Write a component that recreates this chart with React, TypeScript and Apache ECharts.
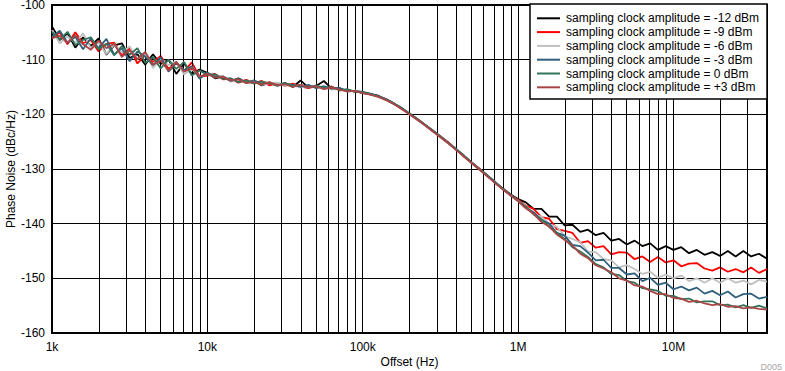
import React, { useEffect, useRef } from "react";
import * as echarts from "echarts";

const FONT = "Arial, 'Liberation Sans', sans-serif";

const freqs = [
  1000, 1122, 1259, 1413, 1585, 1778, 1995, 2239, 2512, 2818, 3162, 3548, 3981, 4467, 5012, 5623, 6310, 7079, 7943, 8913,
  10000, 11220, 12590, 14130, 15850, 17780, 19950, 22390, 25120, 28180, 31620, 35480, 39810, 44670, 50120, 56230, 63100, 70790, 79430, 89130,
  100000, 112200, 125900, 141300, 158500, 177800, 199500, 223900, 251200, 281800, 316200, 354800, 398100, 446700, 501200, 562300, 631000, 707900, 794300, 891300,
  1000000, 1122000, 1259000, 1413000, 1585000, 1778000, 1995000, 2239000, 2512000, 2818000, 3162000, 3548000, 3981000, 4467000, 5012000, 5623000, 6310000, 7079000, 7943000, 8913000,
  10000000, 11220000, 12590000, 14130000, 15850000, 17780000, 19950000, 22390000, 25120000, 28180000, 31620000, 35480000, 40000000,
];

const ampM12 = [
  -103.9, -106.4, -105.2, -107.8, -105.9, -107.5, -106.1, -109.1, -107.4, -107.0, -109.7, -109.0, -110.9, -109.0, -110.8, -110.0, -112.6, -110.7, -112.6, -111.8,
  -112.4, -113.4, -113.1, -113.9, -113.4, -114.2, -113.9, -114.7, -114.2, -114.6, -114.3, -115.0, -113.8, -115.1, -114.8, -113.9, -115.3, -115.2, -115.8, -115.7,
  -116.1, -116.3, -116.6, -117.3, -118.1, -118.9, -119.8, -120.9, -121.9, -123.0, -124.0, -125.2, -126.4, -127.5, -128.8, -130.0, -131.1, -132.4, -133.5, -134.6,
  -135.5, -136.1, -137.3, -137.3, -138.7, -138.7, -140.3, -140.2, -141.5, -141.1, -142.1, -141.7, -143.1, -142.8, -143.8, -143.1, -144.1, -143.6, -144.8, -144.1,
  -144.8, -144.3, -145.4, -144.8, -145.7, -145.2, -145.9, -145.0, -146.0, -145.0, -146.0, -145.5, -146.4,
];

const ampM9 = [
  -106.0, -105.0, -107.2, -105.0, -107.0, -106.4, -108.5, -107.1, -106.9, -109.2, -107.9, -110.7, -109.2, -110.4, -109.3, -111.7, -110.6, -112.1, -110.5, -113.1,
  -112.9, -112.6, -113.6, -113.5, -114.2, -113.7, -114.3, -113.9, -114.7, -114.3, -114.8, -114.4, -114.9, -115.2, -114.8, -115.3, -114.9, -115.6, -115.5, -115.9,
  -116.0, -116.4, -116.7, -117.2, -118.0, -119.0, -119.9, -120.8, -121.9, -123.1, -124.1, -125.1, -126.4, -127.7, -128.8, -129.9, -131.2, -132.5, -133.6, -134.8,
  -135.6, -136.7, -137.3, -138.8, -139.1, -141.0, -141.3, -141.7, -143.5, -143.2, -144.4, -144.1, -145.6, -145.2, -145.3, -146.5, -146.0, -147.0, -146.1, -147.1,
  -146.7, -147.8, -147.3, -147.2, -148.2, -148.6, -148.0, -148.8, -148.3, -148.9, -148.0, -149.0, -148.3,
];

const ampM6 = [
  -104.6, -107.0, -105.8, -106.9, -105.2, -107.9, -106.8, -109.0, -107.2, -108.7, -107.6, -109.9, -108.9, -111.5, -110.0, -111.0, -110.3, -112.7, -111.7, -113.2,
  -112.5, -113.2, -113.0, -114.0, -113.6, -114.1, -113.9, -114.6, -114.3, -114.2, -114.8, -114.6, -115.1, -114.7, -115.1, -114.8, -115.5, -115.3, -115.8, -115.6,
  -116.0, -116.3, -116.8, -117.3, -118.0, -118.9, -120.0, -120.9, -121.9, -123.0, -124.1, -125.3, -126.4, -127.6, -128.9, -130.0, -131.2, -132.4, -133.6, -134.7,
  -135.8, -136.8, -138.2, -138.7, -140.1, -140.6, -142.3, -142.8, -143.4, -145.1, -145.2, -146.5, -146.7, -148.0, -147.6, -148.3, -149.2, -148.8, -149.9, -149.3,
  -150.0, -149.5, -150.5, -150.0, -150.8, -150.0, -150.8, -150.0, -150.8, -150.4, -151.1, -150.3, -150.6,
];

const ampM3 = [
  -105.8, -104.7, -106.9, -105.8, -108.1, -106.1, -107.9, -106.2, -109.1, -107.9, -110.3, -108.5, -109.4, -111.0, -109.6, -112.2, -110.6, -111.9, -111.2, -113.5,
  -112.4, -113.1, -113.1, -113.9, -113.5, -114.2, -113.8, -114.4, -114.2, -114.8, -114.4, -114.6, -115.0, -114.6, -115.2, -114.9, -115.3, -115.2, -115.7, -115.7,
  -115.9, -116.2, -116.7, -117.2, -118.0, -118.8, -119.9, -120.8, -121.9, -122.9, -124.1, -125.2, -126.3, -127.6, -128.8, -130.0, -131.2, -132.3, -133.6, -134.7,
  -135.8, -137.1, -137.9, -139.3, -140.0, -141.7, -142.2, -143.9, -144.1, -145.3, -146.7, -146.6, -148.1, -148.1, -149.3, -149.1, -150.5, -149.9, -151.2, -150.8,
  -152.0, -151.5, -152.2, -151.7, -152.8, -152.3, -153.1, -152.4, -153.5, -152.9, -152.8, -153.7, -153.4,
];

const amp0 = [
  -104.9, -106.3, -104.9, -107.3, -106.4, -105.9, -108.1, -107.1, -109.2, -107.5, -109.1, -107.9, -110.6, -109.5, -111.6, -110.0, -111.7, -110.4, -112.9, -112.0,
  -112.8, -112.7, -113.5, -113.4, -114.1, -113.8, -114.4, -114.0, -114.3, -114.7, -114.3, -114.8, -114.6, -115.1, -114.7, -115.2, -115.0, -115.6, -115.4, -115.9,
  -116.0, -116.3, -116.7, -117.3, -118.0, -118.9, -119.9, -120.9, -121.9, -123.0, -124.1, -125.2, -126.4, -127.6, -128.8, -130.0, -131.2, -132.4, -133.6, -134.7,
  -135.8, -136.9, -138.3, -139.2, -140.6, -141.7, -142.8, -144.3, -145.1, -146.1, -147.4, -148.0, -149.2, -149.4, -150.5, -150.8, -151.8, -152.0, -152.3, -153.2,
  -153.2, -153.8, -153.7, -154.4, -154.2, -154.2, -154.9, -154.8, -155.3, -154.9, -155.4, -155.0, -155.5,
];

const ampP3 = [
  -106.1, -105.6, -106.9, -105.5, -107.2, -108.2, -106.5, -107.9, -107.1, -109.5, -108.3, -109.9, -108.6, -110.9, -110.2, -112.0, -110.4, -112.2, -111.5, -113.1,
  -112.6, -113.3, -113.1, -113.8, -113.6, -114.3, -114.1, -114.5, -114.1, -114.7, -114.5, -115.0, -114.6, -115.0, -114.9, -115.4, -115.1, -115.5, -115.8, -115.7,
  -116.1, -116.4, -116.8, -117.4, -118.1, -119.0, -120.0, -121.0, -122.0, -123.1, -124.2, -125.3, -126.5, -127.7, -128.9, -130.1, -131.3, -132.5, -133.7, -134.8,
  -135.9, -137.2, -138.2, -139.7, -140.5, -142.0, -143.0, -144.0, -145.5, -146.3, -147.6, -148.2, -148.9, -150.0, -150.4, -151.3, -151.5, -152.3, -152.9, -152.9,
  -153.6, -153.7, -154.3, -154.1, -154.6, -154.9, -154.7, -155.2, -155.1, -155.5, -155.3, -155.6, -155.7,
];

const seriesNames = [
  "sampling clock amplitude = -12 dBm",
  "sampling clock amplitude = -9 dBm",
  "sampling clock amplitude = -6 dBm",
  "sampling clock amplitude = -3 dBm",
  "sampling clock amplitude = 0 dBm",
  "sampling clock amplitude = +3 dBm",
];
const seriesValues = [ampM12, ampM9, ampM6, ampM3, amp0, ampP3];
const seriesColors = ["#000000", "#ff0000", "#c0c0c0", "#2f607c", "#33735a", "#a94545"];

const xTickValues = [1e3, 1e4, 1e5, 1e6, 1e7];
const xTickLabels = ["1k", "10k", "100k", "1M", "10M"];
const decadeStarts = [1e3, 1e4, 1e5, 1e6, 1e7];
const minorMultipliers = [2, 3, 4, 5, 6, 7, 8, 9];
const X_MIN = 1000;
const X_MAX = 40000000;

export default function App() {
  const ref = useRef<HTMLDivElement>(null);
  useEffect(() => {
    if (!ref.current) return;
    const chart = echarts.init(ref.current, undefined, { renderer: "svg" });

    const minorLines: any[] = [];
    decadeStarts.forEach((d) =>
      minorMultipliers.forEach((m) => {
        const v = d * m;
        if (v < X_MAX) minorLines.push({ xAxis: v });
      })
    );

    const series: any[] = seriesNames.map((name, si) => ({
      name,
      type: "line",
      symbol: "none",
      showSymbol: false,
      z: 3 + si,
      lineStyle: { color: seriesColors[si], width: 1.8 },
      itemStyle: { color: seriesColors[si] },
      data: freqs.map((f, i) => [f, seriesValues[si][i]]),
    }));
    series.unshift({
      name: "grid-minor",
      type: "line",
      data: [],
      z: 1,
      silent: true,
      markLine: {
        silent: true,
        symbol: "none",
        label: { show: false },
        lineStyle: { color: "#000", width: 1, type: "solid" },
        emphasis: { disabled: true },
        data: minorLines,
      },
    });

    // Legend box drawn as graphic elements (line-sample icons, no symbols)
    const LEG_X = 530;
    const LEG_Y = 4;
    const LEG_W = 237;
    const LEG_H = 95;
    const ROW0 = 18.3;
    const ROW_STEP = 13.8;
    const legendEls: any[] = [
      {
        type: "rect",
        shape: { x: LEG_X, y: LEG_Y, width: LEG_W, height: LEG_H },
        style: { fill: "#ffffff", stroke: "#000", lineWidth: 1.5 },
        z: 100,
      },
    ];
    seriesNames.forEach((name, i) => {
      const y = ROW0 + i * ROW_STEP;
      legendEls.push({
        type: "line",
        shape: { x1: LEG_X + 7, y1: y, x2: LEG_X + 30, y2: y },
        style: { stroke: seriesColors[i], lineWidth: 2 },
        z: 101,
      });
      legendEls.push({
        type: "text",
        x: LEG_X + 36,
        y,
        style: {
          text: name,
          fill: "#000",
          fontSize: 12,
          fontFamily: FONT,
          verticalAlign: "middle",
          align: "left",
        },
        z: 101,
      });
    });

    chart.setOption({
      animation: false,
      backgroundColor: "#ffffff",
      textStyle: { fontFamily: FONT },
      grid: {
        left: 52,
        right: 18,
        top: 5,
        bottom: 38,
        show: true,
        borderColor: "#000",
        borderWidth: 2,
        backgroundColor: "transparent",
        outerBoundsMode: "none",
        containLabel: false,
      },
      xAxis: {
        type: "log",
        logBase: 10,
        min: X_MIN,
        max: X_MAX,
        axisLine: { show: true, lineStyle: { color: "#000", width: 2 } },
        axisTick: { show: false },
        splitLine: { show: true, lineStyle: { color: "#000", width: 1 } },
        axisLabel: {
          color: "#000",
          fontSize: 12,
          margin: 8,
          fontFamily: FONT,
          formatter: (v: number) => {
            const idx = xTickValues.findIndex((t) => Math.abs(v - t) / t < 1e-6);
            return idx >= 0 ? xTickLabels[idx] : "";
          },
        },
        name: "Offset (Hz)",
        nameLocation: "middle",
        nameGap: 23,
        nameMoveOverlap: false,
        nameTextStyle: { color: "#000", fontSize: 12, fontFamily: FONT },
      },
      yAxis: {
        type: "value",
        min: -160,
        max: -100,
        interval: 10,
        axisLine: { show: true, lineStyle: { color: "#000", width: 2 } },
        axisTick: { show: false },
        splitLine: { show: true, lineStyle: { color: "#000", width: 1 } },
        axisLabel: { color: "#000", fontSize: 12, margin: 7, fontFamily: FONT },
        name: "Phase Noise (dBc/Hz)",
        nameLocation: "middle",
        nameGap: 35,
        nameMoveOverlap: false,
        nameTextStyle: { color: "#000", fontSize: 12, fontFamily: FONT },
      },
      graphic: [
        ...legendEls,
        {
          type: "text",
          right: 3,
          bottom: 0,
          style: { text: "D005", fill: "#a8a8a8", fontSize: 9, fontFamily: FONT },
        },
      ],
      series,
    });
    return () => chart.dispose();
  }, []);
  return (
    <div
      ref={ref}
      style={{ position: "absolute", left: 0, top: 0, width: 785, height: 371 }}
    />
  );
}
